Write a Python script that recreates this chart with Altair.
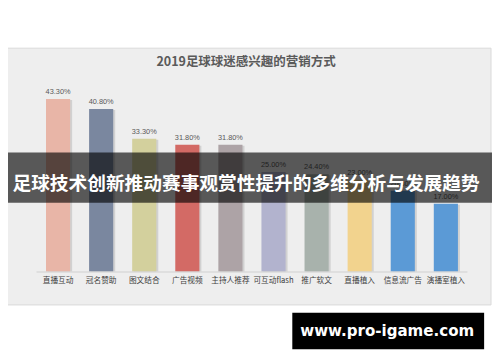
import altair as alt
import pandas as pd

categories = ["直播互动", "冠名赞助", "图文结合", "广告视频", "主持人推荐",
              "可互动flash", "推广软文", "直播植入", "信息流广告", "演播室植入"]
values = [43.3, 40.8, 33.3, 31.8, 31.8, 25.0, 24.4, 23.0, 20.3, 17.0]
colors = ["#E8B5A7", "#7A879F", "#D3D09D", "#D36A65", "#ADA3A6",
          "#B2B3CE", "#A8B2AC", "#F2D38E", "#5B9AD6", "#5B9AD6"]
title_text = "2019足球球迷感兴趣的营销方式"
banner_text = "足球技术创新推动赛事观赏性提升的多维分析与发展趋势"
site_text = "www.pro-igame.com"

df = pd.DataFrame({
    "cat": categories,
    "val": values,
    "color": colors,
    "label": [f"{v:.2f}%" for v in values],
})

W, H = 492, 346
CJK = "Noto Sans CJK SC"

xs = alt.Scale(domain=categories, range=[29, 467], paddingInner=0.44, paddingOuter=0.22)
ys = alt.Scale(domain=[0, 50], range=[265, 62.5])

one = pd.DataFrame({"k": [0]})

frame = alt.Chart(one).mark_rect(fill="#eeeeee", stroke="#d9d9d9", strokeWidth=1).encode(
    x=alt.value(-8), x2=alt.value(491), y=alt.value(38), y2=alt.value(299))

title = alt.Chart(one).mark_text(
    text=title_text, font=CJK, fontSize=12.7, fontWeight="bold", color="#5a5a5a",
    baseline="middle", align="center").encode(x=alt.value(242), y=alt.value(52))

axis_line = alt.Chart(one).mark_rule(color="#cfcfcf", strokeWidth=1).encode(
    x=alt.value(29), x2=alt.value(467), y=alt.value(265.5))

shadow = alt.Chart(df).mark_bar(color="#9a9a9a", opacity=0.35, xOffset=2, yOffset=1).encode(
    x=alt.X("cat:N", scale=xs, axis=None, sort=categories),
    y=alt.Y("val:Q", scale=ys, axis=None),
    y2=alt.datum(0))

bars = alt.Chart(df).mark_bar().encode(
    x=alt.X("cat:N", scale=xs, axis=None, sort=categories),
    y=alt.Y("val:Q", scale=ys, axis=None),
    y2=alt.datum(0),
    color=alt.Color("color:N", scale=None, legend=None))

vlabels = alt.Chart(df).mark_text(
    font="Liberation Sans", fontSize=7.5, color="#595959", baseline="bottom", dy=-3).encode(
    x=alt.X("cat:N", scale=xs, axis=None, sort=categories, bandPosition=0.5),
    y=alt.Y("val:Q", scale=ys, axis=None),
    text="label:N")

clabels = alt.Chart(df).mark_text(
    font=CJK, fontSize=7.8, color="#404040", baseline="middle").encode(
    x=alt.X("cat:N", scale=xs, axis=None, sort=categories, bandPosition=0.5),
    y=alt.value(275),
    text="cat:N")

banner = alt.Chart(one).mark_rect(fill="#000000", opacity=0.63).encode(
    x=alt.value(-8), x2=alt.value(492), y=alt.value(144), y2=alt.value(195))

banner_t = alt.Chart(one).mark_text(
    text=banner_text, font=CJK, fontSize=19, fontWeight="bold", color="#ffffff",
    baseline="middle", align="center").encode(x=alt.value(242), y=alt.value(176))

sitebox = alt.Chart(one).mark_rect(fill="#000000").encode(
    x=alt.value(289), x2=alt.value(484), y=alt.value(307), y2=alt.value(344))

site_t = alt.Chart(one).mark_text(
    text=site_text, font="DejaVu Sans", fontSize=15.3, fontWeight="bold", color="#ffffff",
    baseline="alphabetic", align="center").encode(x=alt.value(385.5), y=alt.value(331))

chart = alt.layer(
    frame, title, shadow, bars, axis_line, vlabels, clabels, banner, banner_t, sitebox, site_t
).properties(
    width=W, height=H, padding=0, autosize=alt.AutoSizeParams(type="none"),
    background="#ffffff"
).configure_view(stroke=None)

chart.save("out.html", embed_options={"renderer": "svg", "actions": False})
